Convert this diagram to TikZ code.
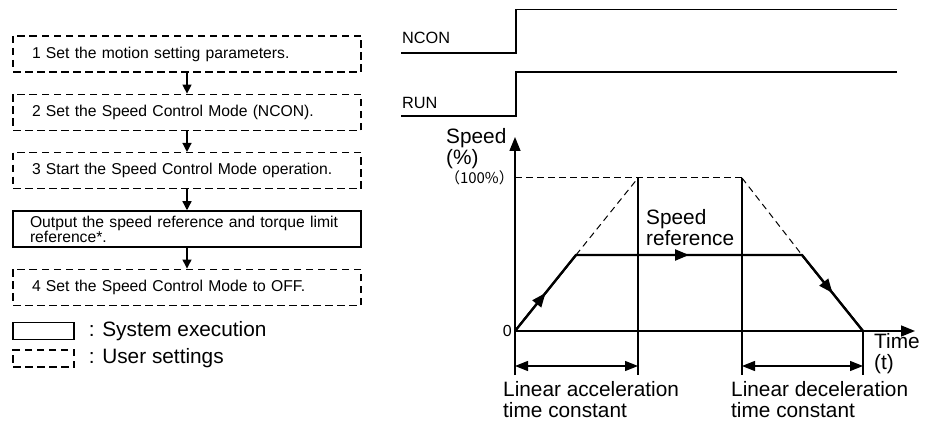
\documentclass[tikz,border=0pt]{standalone}
\usepackage{fontspec}
\setmainfont{Liberation Sans}
\newfontfamily\cjkfont{Noto Sans CJK JP}
\usetikzlibrary{arrows.meta,positioning,decorations.markings}
\tikzset{
  userline/.style={draw=black, line width=1.3pt, dash pattern=on 7.5pt off 4.5pt},
  sysline/.style={draw=black, line width=1.3pt},
  stepbox/.style={
    minimum width=348pt,
    minimum height=36pt,
    text width=318pt,
    inner xsep=15pt,
    inner ysep=1pt,
    align=left,
    font=\fontsize{15.7}{15}\selectfont
  },
  legbox/.style={minimum width=61pt, minimum height=17pt, inner sep=0pt},
  lbl/.style={font=\fontsize{20.8}{21}\selectfont, align=left, inner sep=0pt},
  siglbl/.style={font=\fontsize{16.3}{16}\selectfont, inner sep=0pt, anchor=west},
  flow/.style={-{Triangle[length=9pt,width=9pt]}, line width=1.3pt},
  signal/.style={line width=1.3pt},
  axis/.style={-{Triangle[length=14pt,width=11pt]}, line width=1.5pt},
  guide/.style={line width=1.1pt},
  ghost/.style={line width=1pt, dash pattern=on 6.5pt off 4.5pt},
  profile/.style={line width=2.2pt, postaction={decorate},
    decoration={markings, mark=at position 0.5 with {\arrow{Triangle[length=14pt,width=11pt]}}}},
  dim/.style={{Triangle[length=13pt,width=10pt]}-{Triangle[length=13pt,width=10pt]}, line width=1.2pt}
}

\begin{document}
\begin{tikzpicture}[x=1pt, y=-1pt, node distance=21pt]
  \useasboundingbox (0,0) rectangle (926,422);
  \node[stepbox, userline] (s1) at (187,54) {\hspace*{4pt}1 Set the motion setting parameters.};
  \node[stepbox, userline, below=of s1] (s2) {\hspace*{4pt}2 Set the Speed Control Mode (NCON).};
  \node[stepbox, userline, below=of s2] (s3) {\hspace*{4pt}3 Start the Speed Control Mode operation.};
  \node[stepbox, sysline, below=of s3] (s4) {\hspace*{2pt}Output the speed reference and torque limit\\\hspace*{2pt}reference*.};
  \node[stepbox, userline, below=of s4] (s5) {\hspace*{4pt}4 Set the Speed Control Mode to OFF.};
  \draw[flow] (s1) -- (s2);
  \draw[flow] (s2) -- (s3);
  \draw[flow] (s3) -- (s4);
  \draw[flow] (s4) -- (s5);

  \node[legbox, sysline] (legsys) at (43.5,331) {};
  \node[legbox, userline] (leguser) at (43.5,358.5) {};
  \node[lbl, right=14pt of legsys] (legsystxt) {: System execution};
  \node[lbl, right=14pt of leguser] (legusertxt) {: User settings};

  \node[siglbl] (ncon) at (402,38) {NCON};
  \node[siglbl] (run) at (402,103) {RUN};
  \draw[signal] (401,53) -- (516,53) -- (516,9.4) -- (897,9.4);
  \draw[signal] (401,116) -- (516,116) -- (516,72) -- (897,72);

  \coordinate (o) at (515,331);
  \coordinate (ytop) at (515,137);
  \coordinate (ybot) at (515,375);
  \coordinate (xend) at (915,331);
  \coordinate (h0) at (515,178);
  \coordinate (t1) at (638,178);
  \coordinate (t2) at (742,178);
  \coordinate (b1) at (638,375);
  \coordinate (b2) at (742,375);
  \coordinate (b3) at (863,375);
  \coordinate (p1) at (576,255);
  \coordinate (p2) at (802,255);
  \coordinate (p3) at (863,331);
  \coordinate (d1) at (515,366);
  \coordinate (d2) at (638,366);
  \coordinate (d3) at (742,366);
  \coordinate (d4) at (863,366);

  \draw[axis] (ybot) -- (ytop);
  \draw[axis] (o) -- (xend);
  \draw[guide] (t1) -- (b1);
  \draw[guide] (t2) -- (b2);
  \draw[guide] (p3) -- (b3);
  \draw[ghost] (h0) -- (t2);
  \draw[ghost] (p1) -- (t1);
  \draw[ghost] (t2) -- (p2);
  \draw[line width=2.2pt, line join=miter] (o) -- (p1) -- (p2) -- (p3);
  \draw[profile] (o) -- (p1);
  \draw[profile] (p1) -- (p2);
  \draw[profile] (p2) -- (p3);
  \draw[dim] (d1) -- (d2);
  \draw[dim] (d3) -- (d4);

  \node[lbl, anchor=west] (speedlbl) at (446,149) {Speed\\(\%)};
  \node[anchor=east, inner sep=0pt, font=\cjkfont\fontsize{15}{15}\selectfont] (fullpct) at (514,178) {（100\%）};
  \node[anchor=east, inner sep=0pt, font=\fontsize{16}{16}\selectfont] (zero) at (512,331) {0};
  \node[lbl, anchor=west] (timelbl) at (874,354) {Time\\(t)};
  \node[lbl, anchor=west] (reflbl) at (646,227.5) {Speed\\reference};
  \node[lbl, anchor=west] (acclbl) at (503,400) {Linear acceleration\\time constant};
  \node[lbl, anchor=west] (declbl) at (731,400) {Linear deceleration\\time constant};
\end{tikzpicture}
\end{document}
